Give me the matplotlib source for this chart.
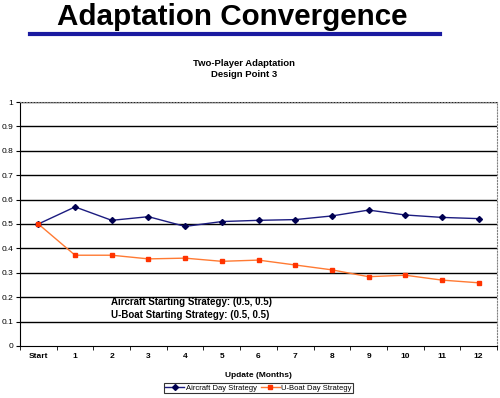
import matplotlib.pyplot as plt
import numpy as np

plt.rcParams['font.family'] = ['Liberation Sans', 'DejaVu Sans']

categories = ['Start', '1', '2', '3', '4', '5', '6', '7', '8', '9', '10', '11', '12']
aircraft = [0.50, 0.57, 0.515, 0.53, 0.49, 0.51, 0.515, 0.518, 0.533, 0.557, 0.537, 0.527, 0.522]
uboat = [0.50, 0.372, 0.372, 0.357, 0.36, 0.347, 0.352, 0.332, 0.312, 0.284, 0.29, 0.27, 0.259]
yticks = [0, 0.1, 0.2, 0.3, 0.4, 0.5, 0.6, 0.7, 0.8, 0.9, 1]
yticklabels = ['0', '0.1', '0.2', '0.3', '0.4', '0.5', '0.6', '0.7', '0.8', '0.9', '1']

fig = plt.figure(figsize=(5, 3.98), dpi=100)
fig.text(0.465, 0.936, 'Adaptation Convergence', ha='center', va='baseline',
         fontsize=21.3, fontweight='bold')
fig.add_artist(plt.Line2D([0.06, 0.88], [0.915, 0.915], color='#1a1aa0', lw=3))
fig.text(0.488, 0.827, 'Two-Player Adaptation\nDesign Point 3', ha='center', va='center',
         fontsize=6.8, fontweight='bold', linespacing=1.3)

ax = fig.add_axes([0.04, 0.1307, 0.954, 0.613])
x = np.arange(len(categories))
for y in yticks[1:]:
    ax.axhline(y, color='black', lw=1, zorder=1)
ax.plot(x, aircraft, color='#1c1c80', lw=1, marker='D', markersize=3,
        markerfacecolor='#000050', markeredgecolor='#000050', label='Aircraft Day Strategy', zorder=3)
ax.plot(x, uboat, color='#ff7a33', lw=1, marker='s', markersize=3.5,
        markerfacecolor='#ff3300', markeredgecolor='#ff3300', label='U-Boat Day Strategy', zorder=3)

ax.set_xlim(-0.5, 12.5)
ax.set_ylim(0, 1)
ax.set_yticks(yticks)
ax.set_yticklabels(yticklabels, fontsize=6)
ax.set_xticks(x)
ax.set_xticklabels(categories, fontsize=6, fontweight='bold')
ax.set_xticks(np.arange(-0.5, 13, 1), minor=True)
ax.tick_params(axis='x', which='major', length=0, pad=5)
ax.tick_params(axis='x', which='minor', length=3, direction='out')
ax.tick_params(axis='y', length=3, direction='out', pad=2)
for s in ['left', 'bottom']:
    ax.spines[s].set_color('black')
for s in ['top', 'right']:
    ax.spines[s].set_color('#808080')
    ax.spines[s].set_linestyle(':')

ax.text(1.99, 0.182, 'Aircraft Starting Strategy: (0.5, 0.5)', fontsize=7.05, fontweight='bold', va='center')
ax.text(1.99, 0.125, 'U-Boat Starting Strategy: (0.5, 0.5)', fontsize=7.05, fontweight='bold', va='center')

ax.set_xlabel('Update (Months)', fontsize=6, fontweight='bold', labelpad=4)
ax.xaxis.set_label_coords(0.5, -0.105)

leg = fig.legend(loc='center', bbox_to_anchor=(0.517, 0.025), ncol=2, fontsize=5.5,
                 frameon=True, fancybox=False, edgecolor='black', handlelength=2.5,
                 columnspacing=0.5, handletextpad=0.2, borderpad=0.2)
leg.get_frame().set_linewidth(0.8)

fig.savefig('out.png', dpi=100)
